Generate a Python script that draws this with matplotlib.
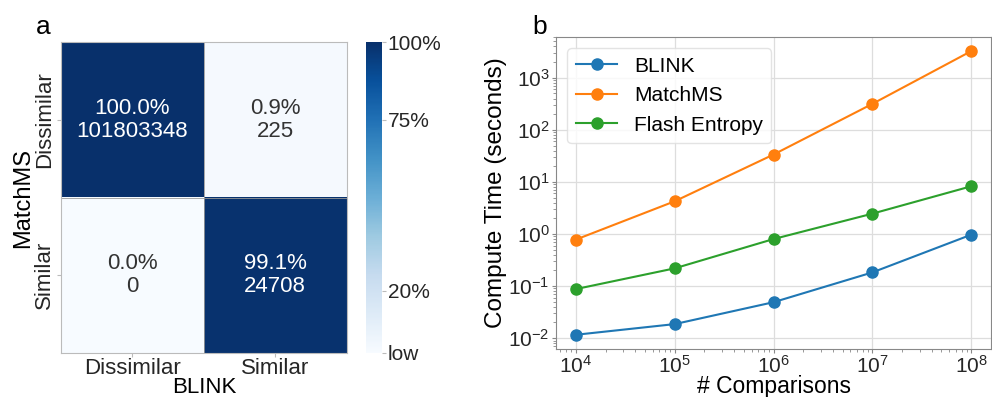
import numpy as np
import matplotlib
matplotlib.use('Agg')
import matplotlib.pyplot as plt
from matplotlib.ticker import NullFormatter

plt.rcParams['font.family'] = ['Liberation Sans', 'DejaVu Sans']

# confusion matrix data (rows = MatchMS, cols = BLINK)
classes = ['Dissimilar', 'Similar']
counts = np.array([[101803348, 225],
                   [0, 24708]])
cbar_ticks = [0, 20, 75, 100]
cbar_labels = ['low', '20%', '75%', '100%']

# timing data
comparisons = [1e4, 1e5, 1e6, 1e7, 1e8]
blink_t = [0.0116, 0.0186, 0.049, 0.183, 0.97]
matchms_t = [0.78, 4.25, 33.6, 316, 3260]
flash_t = [0.0875, 0.219, 0.80, 2.46, 8.26]
time_ticks = [1e-2, 1e-1, 1e0, 1e1, 1e2, 1e3]

pct = counts / counts.sum(axis=0, keepdims=True) * 100

fig = plt.figure(figsize=(9.92, 3.97), dpi=100)

# ---- panel a: heatmap
ax1 = fig.add_axes([0.0615, 0.111, 0.288, 0.783])
cax = fig.add_axes([0.369, 0.111, 0.0161, 0.783])
im = ax1.imshow(pct, cmap='Blues', vmin=0, vmax=100, aspect='auto')
for i in range(2):
    for j in range(2):
        col = 'white' if pct[i, j] > 50 else '#333333'
        ax1.text(j, i, f'{pct[i, j]:.1f}%\n{counts[i, j]}', ha='center', va='center',
                 fontsize=16, color=col, linespacing=1.1)
ax1.axhline(0.5, color='#999999', lw=0.6)
ax1.axvline(0.5, color='#999999', lw=0.6)
ax1.set_xticks([0, 1])
ax1.set_xticklabels(classes, fontsize=16, color='#262626')
ax1.set_yticks([0, 1])
ax1.set_yticklabels(classes, fontsize=16, color='#262626', rotation=90, va='center')
ax1.tick_params(length=3, pad=1, color='#bbbbbb')
ax1.set_xlabel('BLINK', fontsize=16, labelpad=-2)
ax1.set_ylabel('MatchMS', fontsize=17, labelpad=0)
for s in ax1.spines.values():
    s.set_color('#bbbbbb')
cb = fig.colorbar(im, cax=cax, ticks=cbar_ticks)
cb.ax.set_yticklabels(cbar_labels, fontsize=15, color='#262626')
cb.outline.set_visible(False)
cb.ax.tick_params(length=3, pad=1, color='#bbbbbb')
fig.text(0.036, 0.915, 'a', fontsize=19)

# ---- panel b: compute time
ax2 = fig.add_axes([0.5605, 0.121, 0.4385, 0.786])
ax2.plot(comparisons, blink_t, '-o', color='#1f77b4', lw=1.5, ms=8, label='BLINK')
ax2.plot(comparisons, matchms_t, '-o', color='#ff7f0e', lw=1.5, ms=8, label='MatchMS')
ax2.plot(comparisons, flash_t, '-o', color='#2ca02c', lw=1.5, ms=8, label='Flash Entropy')
ax2.set_xscale('log')
ax2.set_yscale('log')
ax2.set_xticks(comparisons)
ax2.set_yticks(time_ticks)
ax2.xaxis.set_minor_formatter(NullFormatter())
ax2.yaxis.set_minor_formatter(NullFormatter())
ax2.grid(True, which='major', color='#dddddd', lw=0.9)
ax2.set_axisbelow(True)
ax2.tick_params(which='major', labelsize=15, length=3, pad=1.5, color='#888888', labelcolor='#262626')
ax2.tick_params(which='minor', length=2, color='#888888')
for s in ax2.spines.values():
    s.set_color('#888888')
ax2.set_xlabel('# Comparisons', fontsize=16.5, labelpad=-1.5)
ax2.set_ylabel('Compute Time (seconds)', fontsize=17.5, labelpad=1)
leg = ax2.legend(loc='upper left', fontsize=15, frameon=True, borderaxespad=0.55)
leg.get_frame().set_edgecolor('#dddddd')
fig.text(0.537, 0.915, 'b', fontsize=19)

fig.savefig('out.png', dpi=100)
